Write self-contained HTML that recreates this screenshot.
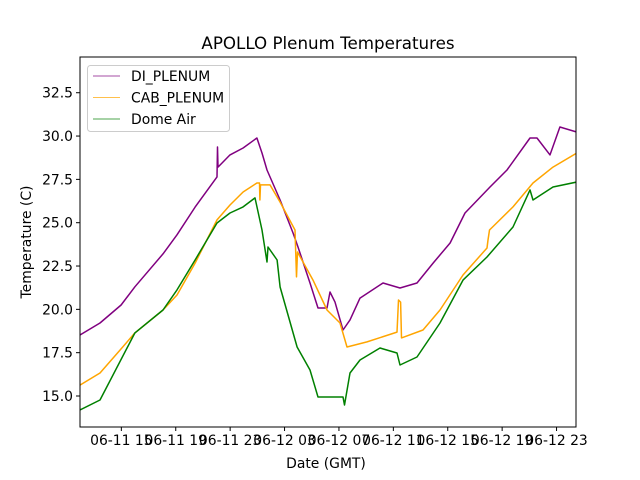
<!DOCTYPE html>
<html><head><meta charset="utf-8"><style>
body{margin:0;background:#fff;}
svg{display:block;font-family:"DejaVu Sans","Liberation Sans",sans-serif;}
</style></head><body>
<svg id="chart" width="640" height="480" viewBox="0 0 640 480">
<rect width="640" height="480" fill="#fff"/>
<text x="328" y="49" text-anchor="middle" font-size="16.7">APOLLO Plenum Temperatures</text>
<g id="plot"></g>
<text x="326" y="468" text-anchor="middle" font-size="13.9">Date (GMT)</text>
<text transform="translate(31,242) rotate(-90)" text-anchor="middle" font-size="13.9">Temperature (C)</text>
</svg>
<script>
const xTickHours=[15,19,23,27,31,35,39,43,47];
const xTickLabels=["06-11 15","06-11 19","06-11 23","06-12 03","06-12 07","06-12 11","06-12 15","06-12 19","06-12 23"];
const yTicks=[15,17.5,20,22.5,25,27.5,30,32.5];
const yTickLabels=["15.0","17.5","20.0","22.5","25.0","27.5","30.0","32.5"];
const seriesNames=["DI_PLENUM","CAB_PLENUM","Dome Air"];
const seriesColors=["purple","orange","green"];
const diHours=[11.96,13.43,14.98,16.0,18.06,19.09,20.42,22.03,22.07,22.11,22.99,23.95,24.97,25.34,25.71,26.67,27.62,27.99,28.87,29.46,30.12,30.34,30.71,31.30,31.81,32.55,34.24,35.49,36.74,37.92,39.17,40.27,42.11,43.36,45.05,45.56,46.52,47.25,48.5];
const diTemps=[18.52,19.21,20.25,21.3,23.2,24.3,25.9,27.64,29.37,28.21,28.91,29.31,29.89,29.02,28.04,26.31,24.41,23.60,21.52,20.08,20.08,21.0,20.42,18.81,19.39,20.65,21.52,21.23,21.52,22.67,23.83,25.56,27.06,28.04,29.89,29.89,28.91,30.52,30.23];
const cabHours=[11.96,13.43,14.90,16.00,18.06,19.09,20.42,22.03,22.99,23.95,24.97,25.16,25.19,25.23,25.93,26.67,27.77,27.88,27.95,29.09,30.12,31.08,31.59,33.06,35.27,35.38,35.53,35.60,37.18,38.43,40.12,41.89,41.96,42.07,43.80,45.27,46.74,48.50];
const cabTemps=[15.63,16.33,17.65,18.64,19.96,20.83,22.67,25.16,26.02,26.77,27.29,27.29,26.31,27.18,27.18,26.19,24.58,21.87,23.31,21.69,19.96,19.21,17.83,18.12,18.69,20.54,20.42,18.35,18.81,19.96,21.98,23.54,24.0,24.58,25.91,27.29,28.21,29.02];
const domeHours=[11.96,13.43,16.00,18.06,19.09,20.42,22.03,22.99,23.95,24.83,25.34,25.71,25.78,26.45,26.67,27.92,28.87,29.46,31.30,31.41,31.81,32.55,34.02,35.27,35.49,36.74,38.43,40.12,41.89,43.80,45.05,45.27,46.74,48.50];
const domeTemps=[14.19,14.77,18.64,19.96,21.12,22.85,24.98,25.56,25.91,26.43,24.58,22.73,23.60,22.85,21.29,17.83,16.50,14.94,14.94,14.48,16.33,17.08,17.77,17.48,16.79,17.25,19.21,21.69,23.02,24.75,26.89,26.31,27.06,27.35];

const L=80,R=576,T=57,B=427;
const xMin=11.96,xMax=11.96+(R-L)/13.6;
const yMin=15-(B-396)/17.33,yMax=15+(396-T)/17.33;
const xs=h=>L+(h-xMin)/(xMax-xMin)*(R-L);
const ys=v=>B-(v-yMin)/(yMax-yMin)*(B-T);
const NS="http://www.w3.org/2000/svg";
const plot=document.getElementById('plot');
function mk(tag,attrs,parent){const e=document.createElementNS(NS,tag);for(const k in attrs)e.setAttribute(k,attrs[k]);(parent||plot).appendChild(e);return e;}

const allH=[diHours,cabHours,domeHours],allT=[diTemps,cabTemps,domeTemps],lineNames=['di-plenum-line','cab-plenum-line','dome-air-line'];
const clip=mk('clipPath',{id:'clp'});mk('rect',{x:L,y:T,width:R-L,height:B-T},clip);
for(let s=0;s<3;s++){
  const d=allH[s].map((h,i)=>(i?'L':'M')+xs(h).toFixed(1)+' '+ys(allT[s][i]).toFixed(1)).join(' ');
  const p=mk('path',{d:d,fill:'none',stroke:seriesColors[s],'stroke-width':1.5,'stroke-linejoin':'round','clip-path':'url(#clp)'});
  
  
}
const frame=mk('rect',{x:L,y:T,width:R-L,height:B-T,fill:'none',stroke:'#000','stroke-width':1});


xTickHours.forEach((h,i)=>{
  const x=xs(h);
  const tk=mk('line',{x1:x,x2:x,y1:B,y2:B+4,stroke:'#000'});
  
  
  const t=mk('text',{x:x,y:B+18,'text-anchor':'middle','font-size':13.9});
  t.textContent=xTickLabels[i];
  
  
});
yTicks.forEach((v,i)=>{
  const y=ys(v);
  const tk=mk('line',{x1:L-4,x2:L,y1:y,y2:y,stroke:'#000'});
  
  
  const t=mk('text',{x:L-7,y:y+5,'text-anchor':'end','font-size':13.9});
  t.textContent=yTickLabels[i];
  
  
});
const lg=mk('g',{});


mk('rect',{x:87.5,y:65.5,width:142,height:66,rx:3,fill:'#fff','fill-opacity':0.8,stroke:'#ccc'},lg);
seriesNames.forEach((n,i)=>{
  const y=76+i*21.5;
  const g=mk('g',{},lg);
  
  
  mk('line',{x1:93,x2:120,y1:y,y2:y,stroke:seriesColors[i],'stroke-width':1,'stroke-opacity':0.7},g);
  const t=mk('text',{x:131,y:y+5,'font-size':13.9},g);
  t.textContent=n;
});
</script>
</body></html>
